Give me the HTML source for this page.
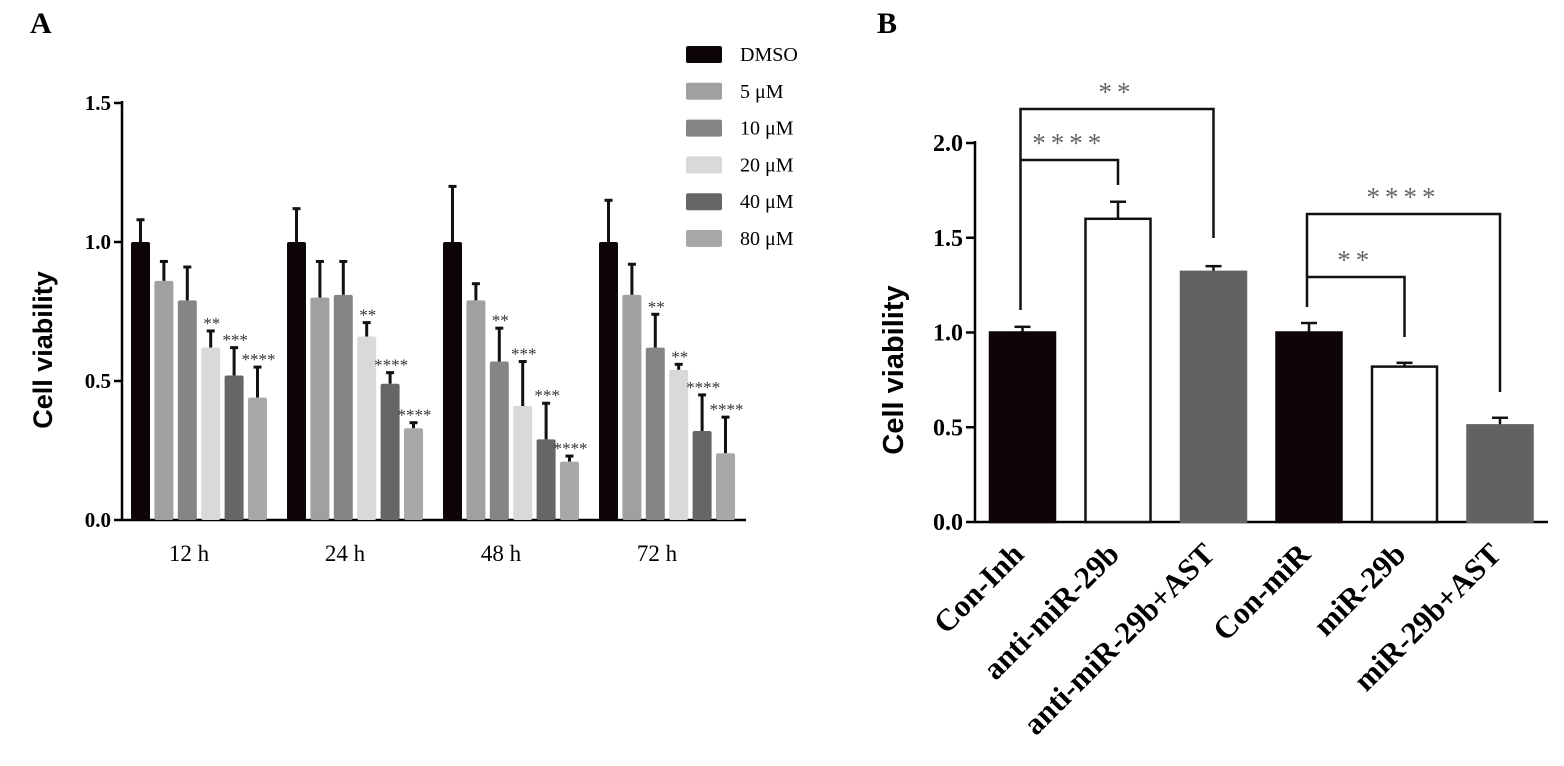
<!DOCTYPE html>
<html><head><meta charset="utf-8"><style>
body{margin:0;background:#fff}
svg{display:block}
text{font-family:"Liberation Serif",serif}
</style></head><body>
<svg id="s" width="1564" height="766">
<text x="30" y="33" font-size="30" font-weight="bold">A</text>
<text x="877" y="33" font-size="30" font-weight="bold">B</text>
<g id="ga"></g>
<g id="gb"></g>
</svg>
<script>
const groupsA=["12 h","24 h","48 h","72 h"];
const seriesA=["DMSO","5 μM","10 μM","20 μM","40 μM","80 μM"];
const colorsA=["#0d0508","#a0a0a0","#858585","#d9d9d9","#666666","#a8a8a8"];
const valsA=[[1.0,0.86,0.79,0.62,0.52,0.44],[1.0,0.80,0.81,0.66,0.49,0.33],[1.0,0.79,0.57,0.41,0.29,0.21],[1.0,0.81,0.62,0.54,0.32,0.24]];
const errA=[[0.08,0.07,0.12,0.06,0.10,0.11],[0.12,0.13,0.12,0.05,0.04,0.02],[0.20,0.06,0.12,0.16,0.13,0.02],[0.15,0.11,0.12,0.02,0.13,0.13]];
const starsA=[["","","","**","***","****"],["","","","**","****","****"],["","","**","***","***","****"],["","","**","**","****","****"]];
const ticksA=[0,0.5,1.0,1.5];
const catsB=["Con-Inh","anti-miR-29b","anti-miR-29b+AST","Con-miR","miR-29b","miR-29b+AST"];
const valsB=[1.0,1.6,1.32,1.0,0.82,0.51];
const errB=[0.03,0.09,0.03,0.05,0.02,0.04];
const fillB=["#0d0508","#ffffff","#626262","#0d0508","#ffffff","#626262"];
const ticksB=[0,0.5,1.0,1.5,2.0];
const NS="http://www.w3.org/2000/svg";
function mk(p,t,a,txt){const e=document.createElementNS(NS,t);for(const k in a)e.setAttribute(k,a[k]);if(txt!==undefined)e.textContent=txt;p.appendChild(e);return e;}
// Panel A
const ga=document.getElementById('ga');
const yA=v=>520-v*278;
const xA=(g,s)=>131+g*156+s*23.4;
mk(ga,'line',{x1:122,y1:101,x2:122,y2:521,stroke:'#000','stroke-width':2.5});
mk(ga,'line',{x1:121,y1:520,x2:746,y2:520,stroke:'#000','stroke-width':2.5});
ticksA.forEach(t=>{
 const l=mk(ga,'line',{x1:114,y1:yA(t),x2:122,y2:yA(t),stroke:'#000','stroke-width':2.5});
 
 const tx=mk(ga,'text',{x:111,y:yA(t)+7,'text-anchor':'end','font-size':21,'font-weight':'bold'},t.toFixed(1));
 
});
const yl=mk(ga,'text',{x:0,y:0,transform:'translate(52,350) rotate(-90)','text-anchor':'middle','font-size':27,'font-weight':'bold',style:'font-family:"Liberation Sans",sans-serif'},'Cell viability');

groupsA.forEach((g,gi)=>{
 valsA[gi].forEach((v,si)=>{
  const x=xA(gi,si),w=19,top=yA(v),et=yA(v+errA[gi][si]);
  const eb=mk(ga,'line',{x1:x+w/2,y1:top,x2:x+w/2,y2:et,stroke:'#111','stroke-width':3});
  
  const cap=mk(ga,'line',{x1:x+w/2-4,y1:et,x2:x+w/2+4,y2:et,stroke:'#111','stroke-width':3});
  
  const r=mk(ga,'rect',{x:x,y:top,width:w,height:520-top,fill:colorsA[si],rx:2});
  
  if(starsA[gi][si]){const s=mk(ga,'text',{x:x+w/2+1,y:et-2,'text-anchor':'middle','font-size':17,fill:'#333'},starsA[gi][si]);
   }
 });
 const lt=mk(ga,'text',{x:xA(gi,0)+58,y:561,'text-anchor':'middle','font-size':23},g);
 
});
seriesA.forEach((s,i)=>{
 const y=46+i*36.8;
 const r=mk(ga,'rect',{x:686,y:y,width:36,height:17,fill:colorsA[i],rx:2});
 
 const t=mk(ga,'text',{x:740,y:y+15,'font-size':20},s);
 
});
// Panel B
const gb=document.getElementById('gb');
const yB=v=>522-v*189.5;
const xB=i=>990+i*95.5;
const bw=65;
mk(gb,'line',{x1:975,y1:141,x2:975,y2:523,stroke:'#000','stroke-width':2.5});
mk(gb,'line',{x1:974,y1:522,x2:1548,y2:522,stroke:'#000','stroke-width':2.5});
ticksB.forEach(t=>{
 const l=mk(gb,'line',{x1:966,y1:yB(t),x2:975,y2:yB(t),stroke:'#000','stroke-width':2.5});
 
 const tx=mk(gb,'text',{x:963,y:yB(t)+8,'text-anchor':'end','font-size':24,'font-weight':'bold'},t.toFixed(1));
 
});
const yl2=mk(gb,'text',{x:0,y:0,transform:'translate(903,370) rotate(-90)','text-anchor':'middle','font-size':29,'font-weight':'bold',style:'font-family:"Liberation Sans",sans-serif'},'Cell viability');

valsB.forEach((v,i)=>{
 const x=xB(i),top=yB(v),et=yB(v+errB[i]);
 const eb=mk(gb,'line',{x1:x+bw/2,y1:top,x2:x+bw/2,y2:et,stroke:'#111','stroke-width':2.5});
 
 const cap=mk(gb,'line',{x1:x+bw/2-8,y1:et,x2:x+bw/2+8,y2:et,stroke:'#111','stroke-width':2.5});
 
 const r=mk(gb,'rect',{x:x,y:top,width:bw,height:522-top,fill:fillB[i],stroke:fillB[i]==='#ffffff'?'#111':fillB[i],'stroke-width':2.5});
 
 const cx=x+bw/2+3,cy=556;
 const t=mk(gb,'text',{x:cx,y:cy,'text-anchor':'end','font-size':31,'font-weight':'bold',transform:`rotate(-45 ${cx} ${cy})`},catsB[i]);
 
});
function bracket(i,j,y,ly1,ly2,label){
 const x1=xB(i)+bw/2-2,x2=xB(j)+bw/2;
 const p=mk(gb,'polyline',{points:`${x1},${ly1} ${x1},${y} ${x2},${y} ${x2},${ly2}`,fill:'none',stroke:'#111','stroke-width':2.5});
 
 const t=mk(gb,'text',{x:(x1+x2)/2,y:y-8,'text-anchor':'middle','font-size':27,fill:'#666','letter-spacing':'5'},label);
 
}
bracket(0,2,109,310,238,'**');
bracket(0,1,160,160,185,'****');
bracket(3,5,214,307,392,'****');
bracket(3,4,277,277,337,'**');
</script>
</body></html>
